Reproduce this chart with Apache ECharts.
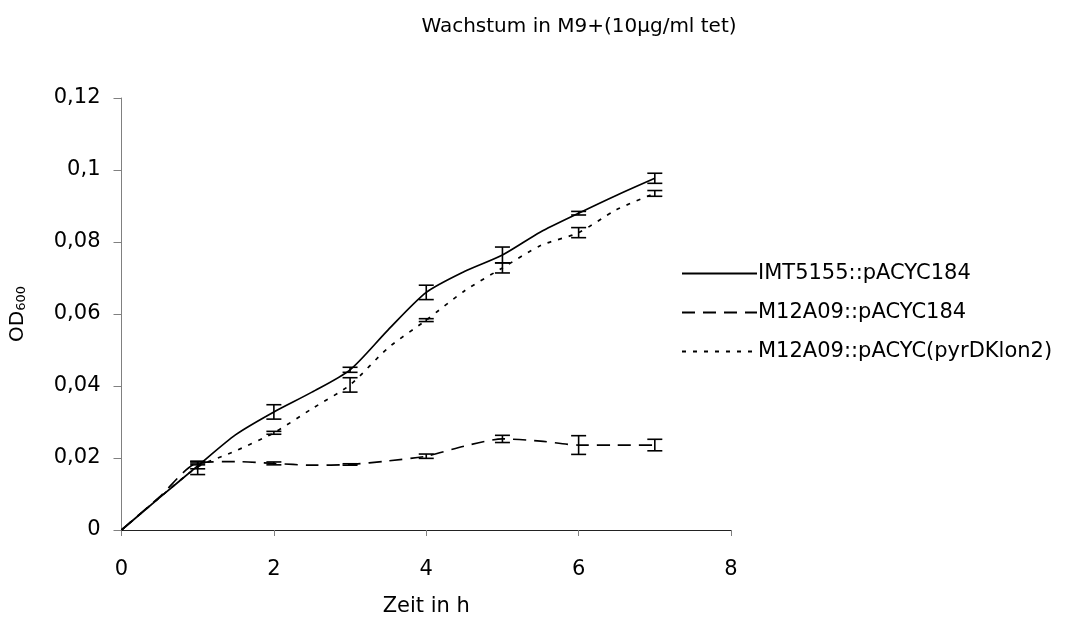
<!DOCTYPE html>
<html>
<head>
<meta charset="utf-8">
<script src="https://cdn.jsdelivr.net/npm/echarts@6/dist/echarts.min.js"></script>
<style>html,body{margin:0;padding:0;background:#fff}#c{width:1072px;height:622px}</style>
</head>
<body>
<div id="c"></div>
<script>
// Time points (h) for the curves
var timeLine = [0, 0.5, 1, 1.5, 2, 2.5, 3, 3.5, 4, 4.5, 5, 5.5, 6, 6.5, 7];
var imtLine    = [0, 0.009, 0.0178, 0.0265, 0.0328, 0.0383, 0.0445, 0.0556, 0.066, 0.0718, 0.0764, 0.0828, 0.088, 0.093, 0.0977];
var m12Line    = [0, 0.0092, 0.0186, 0.019, 0.0185, 0.018, 0.0182, 0.0192, 0.0205, 0.0233, 0.0253, 0.0247, 0.0236, 0.0236, 0.0236];
var pyrLine    = [0, 0.009, 0.0175, 0.022, 0.027, 0.0337, 0.0403, 0.0506, 0.0583, 0.0664, 0.0728, 0.079, 0.0826, 0.089, 0.0935];

// Error bars at whole hours
var timeErr = [1, 2, 3, 4, 5, 6, 7];
var imtMean = [0.0178, 0.0328, 0.0445, 0.066, 0.0764, 0.088, 0.0977];
var imtErr  = [0.0008, 0.002, 0.0007, 0.002, 0.0022, 0.0005, 0.0014];
var m12Mean = [0.0186, 0.0185, 0.0182, 0.0205, 0.0253, 0.0236, 0.0236];
var m12Err  = [0.0005, 0.0004, 0.0002, 0.0006, 0.001, 0.0026, 0.0016];
var pyrMean = [0.0172, 0.027, 0.0403, 0.0583, 0.0728, 0.0826, 0.0935];
var pyrErr  = [0.0018, 0.0004, 0.002, 0.0004, 0.0014, 0.0014, 0.0008];

var names = ['IMT5155::pACYC184', 'M12A09::pACYC184', 'M12A09::pACYC(pyrDKlon2)'];
var xTicks = [0, 2, 4, 6, 8];
var yTicks = [0, 0.02, 0.04, 0.06, 0.08, 0.1, 0.12];

function pairs(xs, ys) { return xs.map(function (x, i) { return [x, ys[i]]; }); }
function errData(xs, m, e) { return xs.map(function (x, i) { return [x, m[i] - e[i], m[i] + e[i]]; }); }

var font = 'DejaVu Sans, sans-serif';

function errRender(params, api) {
  var x = api.value(0);
  var lo = api.coord([x, api.value(1)]);
  var hi = api.coord([x, api.value(2)]);
  var w = 7.5;
  var st = { stroke: '#000', lineWidth: 1.6 };
  return {
    type: 'group',
    children: [
      { type: 'line', shape: { x1: lo[0], y1: lo[1], x2: hi[0], y2: hi[1] }, style: st },
      { type: 'line', shape: { x1: lo[0] - w, y1: lo[1], x2: lo[0] + w, y2: lo[1] }, style: st },
      { type: 'line', shape: { x1: hi[0] - w, y1: hi[1], x2: hi[0] + w, y2: hi[1] }, style: st }
    ]
  };
}

var chart = echarts.init(document.getElementById('c'), null, { renderer: 'canvas' });
var lineBase = { type: 'line', symbol: 'none', smooth: 0.25, z: 3 };
chart.setOption({
  animation: false,
  backgroundColor: '#fff',
  title: {
    text: 'Wachstum in M9+(10µg/ml tet)',
    left: 574, top: 12, textAlign: 'center',
    textStyle: { fontFamily: font, fontSize: 20, fontWeight: 'normal', color: '#000' }
  },
  legend: {
    orient: 'vertical', left: 676, top: 258, itemWidth: 75, itemHeight: 14, itemGap: 18,
    data: names,
    itemStyle: { opacity: 0 },
    textStyle: { fontFamily: font, fontSize: 21, lineHeight: 20, color: '#000', padding: [0, 0, 0, -4] }
  },
  grid: { left: 119, right: 341, top: 98, bottom: 92, containLabel: false },
  xAxis: {
    type: 'value', min: xTicks[0], max: xTicks[xTicks.length - 1], interval: 2,
    name: 'Zeit in h', nameLocation: 'middle', nameGap: 66,
    nameTextStyle: { fontFamily: font, fontSize: 21, color: '#000' },
    axisLine: { lineStyle: { color: '#222', width: 1 } },
    axisTick: { show: true, length: 6, lineStyle: { color: '#808080' } },
    axisLabel: { fontFamily: font, fontSize: 21, color: '#000', margin: 29 },
    splitLine: { show: false }
  },
  yAxis: {
    type: 'value', min: yTicks[0], max: yTicks[yTicks.length - 1], interval: 0.02,
    name: '{a|OD}{b|600}', nameLocation: 'middle', nameGap: 93, nameRotate: 90,
    nameTextStyle: {
      rich: {
        a: { fontFamily: font, fontSize: 20, color: '#000' },
        b: { fontFamily: font, fontSize: 13, color: '#000', padding: [8, 0, 0, 0] }
      }
    },
    axisLine: { show: true, lineStyle: { color: '#808080', width: 1 } },
    axisTick: { show: true, length: 8, lineStyle: { color: '#808080' } },
    axisLabel: {
      fontFamily: font, fontSize: 21, color: '#000', margin: 21,
      formatter: function (v) { return String(Number(v.toFixed(2))).replace('.', ','); }
    },
    splitLine: { show: false }
  },
  series: [
    Object.assign({}, lineBase, { name: names[0], data: pairs(timeLine, imtLine),
      color: '#000', lineStyle: { color: '#000', width: 1.7, type: 'solid' } }),
    Object.assign({}, lineBase, { name: names[1], data: pairs(timeLine, m12Line),
      color: '#000', lineStyle: { color: '#000', width: 1.7, type: [13, 8] } }),
    Object.assign({}, lineBase, { name: names[2], data: pairs(timeLine, pyrLine),
      color: '#000', lineStyle: { color: '#000', width: 1.7, type: [4, 7] } }),
    { type: 'custom', name: 'e1', renderItem: errRender, data: errData(timeErr, imtMean, imtErr), encode: { x: 0, y: [1, 2] }, z: 4 },
    { type: 'custom', name: 'e2', renderItem: errRender, data: errData(timeErr, m12Mean, m12Err), encode: { x: 0, y: [1, 2] }, z: 4 },
    { type: 'custom', name: 'e3', renderItem: errRender, data: errData(timeErr, pyrMean, pyrErr), encode: { x: 0, y: [1, 2] }, z: 4 }
  ]
});
</script>
</body>
</html>
